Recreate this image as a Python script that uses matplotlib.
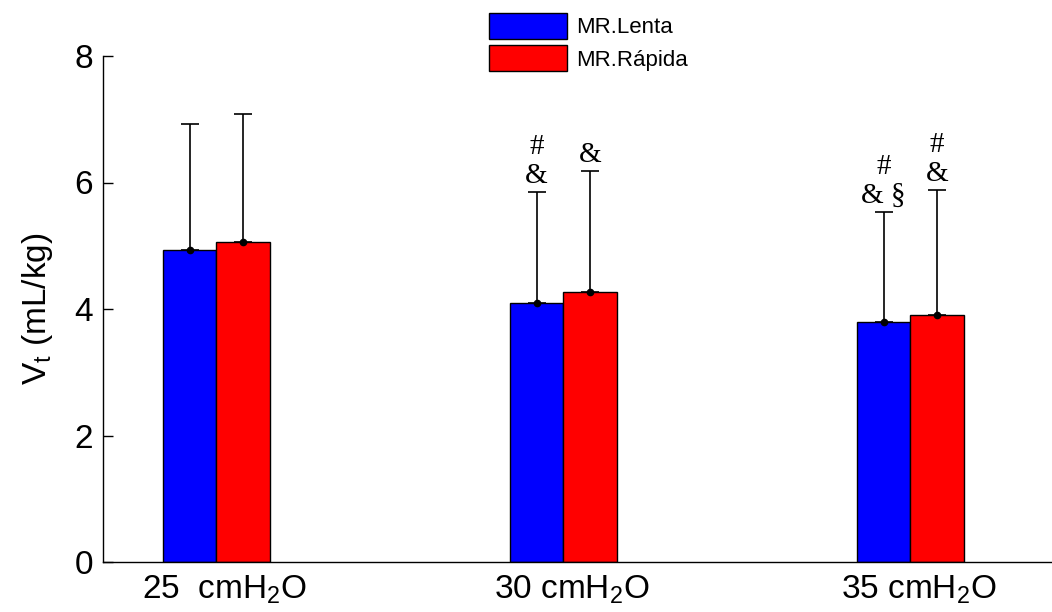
import numpy as np
import matplotlib
matplotlib.use('Agg')
import matplotlib.pyplot as plt
import matplotlib.transforms as mtransforms

plt.rcParams['font.family'] = ['Liberation Sans', 'DejaVu Sans']
plt.rcParams['mathtext.fontset'] = 'custom'
plt.rcParams['mathtext.rm'] = 'Liberation Sans'

# Tidal volume per pressure level, mean and SD
groups = ['25  cmH$_2$O', '30 cmH$_2$O', '35 cmH$_2$O']
lenta_mean = [4.94, 4.10, 3.80]
lenta_sd = [1.99, 1.75, 1.74]
rapida_mean = [5.06, 4.27, 3.90]
rapida_sd = [2.03, 1.91, 1.98]
lenta_marks = ['', '#\n&', '#\n& §']
rapida_marks = ['', '&', '#\n&']

x = np.arange(1, len(groups) + 1)
w = 0.154

fig = plt.figure(figsize=(10.52, 6.12), dpi=100)
ax = fig.add_axes([103 / 1052, 50 / 612, 949 / 1052, 506 / 612])

b1 = ax.bar(x - w / 2, lenta_mean, w, color='#0000ff', edgecolor='black', linewidth=1.0, label='MR.Lenta')
b2 = ax.bar(x + w / 2, rapida_mean, w, color='#ff0000', edgecolor='black', linewidth=1.0, label='MR.Rápida')

for xs, m, s in [(x - w / 2, lenta_mean, lenta_sd), (x + w / 2, rapida_mean, rapida_sd)]:
    ax.errorbar(xs, m, yerr=[np.zeros(len(s)), s], fmt='o', color='black', ms=4.5,
                elinewidth=1.2, capsize=6.5, capthick=1.2)

# significance marks above the error caps
for xs, m, s, marks in [(x - w / 2, lenta_mean, lenta_sd, lenta_marks),
                        (x + w / 2, rapida_mean, rapida_sd, rapida_marks)]:
    for xi, mi, si, t in zip(xs, m, s, marks):
        if t:
            ax.annotate(t, (xi, mi + si), xytext=(0, 2), textcoords='offset points',
                        ha='center', va='bottom', fontsize=21, family='Liberation Serif',
                        linespacing=1.15)

ax.set_xlim(0.673, 3.408)
ax.set_ylim(0, 8)
ax.set_yticks([0, 2, 4, 6, 8])
ax.set_xticks(x)
ax.set_xticklabels(groups)
ax.tick_params(axis='y', direction='in', length=7.5, width=1.0, labelsize=24, pad=7)
ax.tick_params(axis='x', length=0, labelsize=24, pad=8)
shift = mtransforms.ScaledTranslation(8 / 100, 0, fig.dpi_scale_trans)
for lbl in ax.get_xticklabels():
    lbl.set_transform(lbl.get_transform() + shift)

for side in ['top', 'right']:
    ax.spines[side].set_visible(False)
for side in ['left', 'bottom']:
    ax.spines[side].set_linewidth(1.0)

ax.set_ylabel('V$_\\mathregular{t}$ (mL/kg)', fontsize=24, labelpad=14)

fig.legend(handles=[b1, b2], loc='upper left', bbox_to_anchor=(489 / 1052, 1 - 13 / 612),
           frameon=False, fontsize=16, handlelength=3.5, handleheight=1.4,
           handletextpad=0.4, labelspacing=0.3, borderpad=0, borderaxespad=0)

fig.savefig('out.png', dpi=100)
